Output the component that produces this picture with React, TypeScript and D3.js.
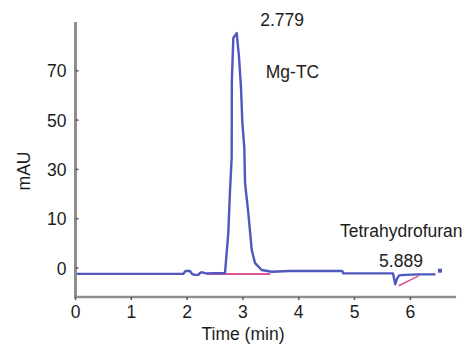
import React from "react";
import * as d3 from "d3";

const times = [0, 1.93, 1.97, 2.05, 2.09, 2.13, 2.2, 2.24, 2.28, 2.33, 2.679, 2.738, 2.769, 2.799, 2.801, 2.828, 2.889, 2.93, 2.966, 2.989, 3.025, 3.038, 3.097, 3.158, 3.217, 3.337, 3.516, 3.84, 4.78, 4.8, 5.69, 5.73, 5.76, 5.8, 5.9, 6.15, 6.45];
const signal = [-1.2, -1.2, -0.6, -0.6, -1.2, -1.4, -1.4, -0.9, -0.9, -1.1, -1.0, 7.1, 21.6, 35.0, 65.5, 83.3, 85.3, 75.6, 63.0, 49.2, 38.7, 24.5, 12.3, 3.65, 1.0, -0.4, -0.75, -0.6, -0.6, -1.1, -1.1, -3.3, -2.2, -1.5, -1.4, -1.3, -1.3];

const base1T = [2.35, 3.49];
const base1V = [-1.2, -1.2];
const base2T = [5.79, 6.15];
const base2V = [-3.6, -1.6];

const endDotT = 6.53;
const endDotV = -0.55;

const xTicks = [0, 1, 2, 3, 4, 5, 6];
const yTicks = [0, 10, 30, 50, 70];
const xMax = 6.82;
const yMin = -5.9;
const yMax = 89.8;

const peakLabels = [
  { text: "2.779", t: 3.31, v: 88.2 },
  { text: "Mg-TC", t: 3.41, v: 67.1 },
  { text: "Tetrahydrofuran", t: 4.74, v: 6.35 },
  { text: "5.889", t: 5.44, v: 0.2 },
];

export default function App() {
  const W = 466, H = 344;
  const x = d3.scaleLinear().domain([0, xMax]).range([75.5, 456.1]);
  const y = d3
    .scaleLinear()
    .domain(yTicks)
    .range(yTicks.map((_, i) => 268 - i * 49.3));

  const line = d3
    .line<number>()
    .x((_, i) => x(times[i]))
    .y((d) => y(d));
  const pts = (ts: number[], vs: number[]) =>
    d3.line<number>().x((_, i) => x(ts[i])).y((d) => y(d))(vs) || "";

  const font = "'Liberation Sans', Arial, Helvetica, sans-serif";
  const axisColor = "#8e8e8e";
  const textColor = "#1c1c1c";
  const x0 = x(0);
  const yBottom = y(yMin);

  return (
    <svg width={W} height={H} style={{ position: "absolute", left: 0, top: 0, background: "#ffffff" }} fontFamily={font}>
      {/* pink baselines */}
      <path d={pts(base1T, base1V)} fill="none" stroke="#d9559e" strokeWidth={2} />
      <path d={pts(base2T, base2V)} fill="none" stroke="#d9559e" strokeWidth={1.6} />
      {/* signal */}
      <path d={line(signal) || ""} fill="none" stroke="#5057bd" strokeWidth={2.4} strokeLinejoin="round" />
      <rect x={x(endDotT) - 2} y={y(endDotV) - 2} width={4} height={4} fill="#4e54bc" />
      {/* axes */}
      <line x1={x0} x2={x0} y1={y(yMax)} y2={yBottom} stroke={axisColor} strokeWidth={3} />
      <line x1={x0 - 1.5} x2={x(xMax)} y1={yBottom} y2={yBottom} stroke={axisColor} strokeWidth={2.5} />
      {yTicks.map((t) => (
        <g key={"y" + t}>
          <line x1={x0} x2={x0 + 3} y1={y(t)} y2={y(t)} stroke="#555" strokeWidth={1.5} />
          <text x={x0 - 9} y={y(t) + 6.5} textAnchor="end" fontSize={17.5} fill={textColor}>
            {t}
          </text>
        </g>
      ))}
      {xTicks.map((t) => (
        <g key={"x" + t}>
          <line x1={x(t)} x2={x(t)} y1={yBottom} y2={yBottom + 3} stroke="#555" strokeWidth={1.5} />
          <text x={x(t)} y={318} textAnchor="middle" fontSize={17.5} fill={textColor}>
            {t}
          </text>
        </g>
      ))}
      <text x={243} y={340} textAnchor="middle" fontSize={17.5} fill={textColor}>
        Time (min)
      </text>
      <text transform={`translate(30,171) rotate(-90)`} textAnchor="middle" fontSize={17.5} fill={textColor}>
        mAU
      </text>
      {peakLabels.map((l) => (
        <text key={l.text} x={x(l.t)} y={y(l.v)} fontSize={17.5} fill={textColor}>
          {l.text}
        </text>
      ))}
    </svg>
  );
}
